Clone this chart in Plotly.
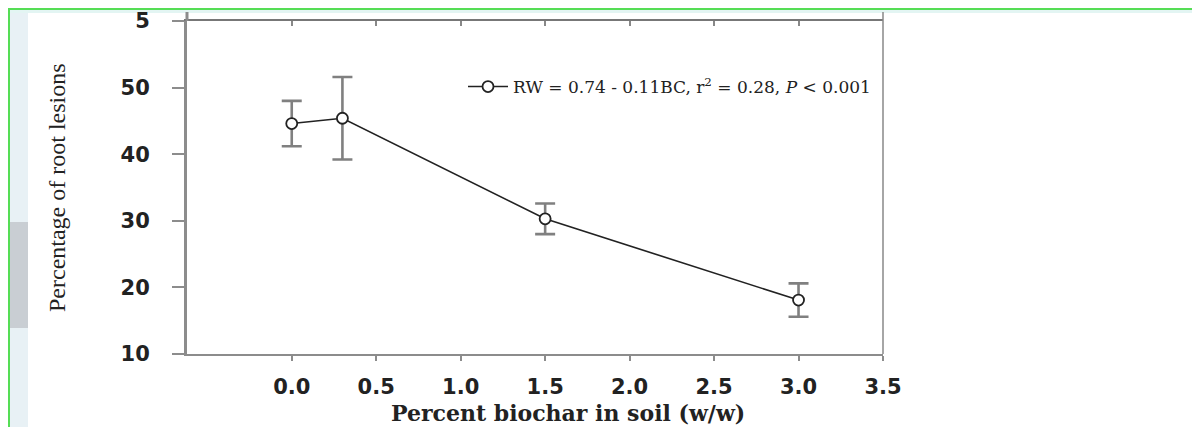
import plotly.graph_objects as go

# ---- data ----
biochar_pct = [0.0, 0.3, 1.5, 3.0]
lesion_pct = [44.6, 45.4, 30.3, 18.1]
lesion_err = [3.4, 6.2, 2.3, 2.5]
legend_label = "RW = 0.74 - 0.11BC, r<sup>2</sup> = 0.28, <i>P</i> < 0.001"
x_tickvals = [0.0, 0.5, 1.0, 1.5, 2.0, 2.5, 3.0, 3.5]
x_ticktext = ["0.0", "0.5", "1.0", "1.5", "2.0", "2.5", "3.0", "3.5"]
y_tickvals = [10, 20, 30, 40, 50, 60]
y_ticktext = ["10", "20", "30", "40", "50", "5"]
x_title = "Percent biochar in soil (w/w)"
y_title = "Percentage of root lesions"

# page body margin offset (screen = figure + OFF)
OFF = 8
W, H = 1200 - 2 * OFF, 435 - 2 * OFF
L = 187 - OFF
T = 21 - OFF
R = W - (883 - OFF)
B = H - (354 - OFF)
PW, PH = W - L - R, H - T - B


def px(x):
    return (x - OFF - L) / PW


def py(y):
    return (H - B - (y - OFF)) / PH


fig = go.Figure()

fig.add_trace(go.Scatter(
    x=biochar_pct, y=lesion_pct,
    mode="lines+markers",
    name=legend_label,
    line=dict(color="#222222", width=1.6),
    marker=dict(symbol="circle", size=11, color="white",
                line=dict(color="#222222", width=1.8)),
    error_y=dict(type="data", array=lesion_err, visible=True,
                 color="#808080", thickness=2.6, width=10),
))

# invisible trace to anchor the top mirror axis
fig.add_trace(go.Scatter(x=[biochar_pct[0]], y=[lesion_pct[0]], xaxis="x2",
                         mode="markers", marker=dict(opacity=0),
                         showlegend=False, hoverinfo="skip"))

tickfont = dict(family="DejaVu Sans", size=21, color="#222222", weight="bold")

fig.update_layout(
    width=W, height=H,
    margin=dict(l=L, r=R, t=T, b=B, autoexpand=False),
    paper_bgcolor="white", plot_bgcolor="white",
    showlegend=True,
    legend=dict(x=px(463), y=py(87), xanchor="left", yanchor="middle",
                bgcolor="rgba(0,0,0,0)",
                font=dict(family="DejaVu Serif", size=17, color="#222222"),
                itemwidth=40),
    xaxis=dict(range=[-0.62, 3.5], tickvals=x_tickvals, ticktext=x_ticktext,
               automargin=False,
               showgrid=False, zeroline=False,
               showline=True, linecolor="#8c8c8c", linewidth=2,
               ticks="outside", ticklen=5, tickwidth=2, tickcolor="#8c8c8c",
               ticklabelstandoff=8, tickfont=tickfont),
    xaxis2=dict(range=[-0.62, 3.5], overlaying="x", side="top",
                automargin=False,
                tickvals=x_tickvals, showticklabels=False,
                showgrid=False, zeroline=False,
                showline=True, linecolor="#777777", linewidth=1.5,
                ticks="inside", ticklen=5, tickwidth=2, tickcolor="#888888"),
    yaxis=dict(range=[10, 60], tickvals=y_tickvals, ticktext=y_ticktext,
               automargin=False,
               showgrid=False, zeroline=False,
               showline=True, linecolor="#8c8c8c", linewidth=3, mirror=False,
               ticks="outside", ticklen=12, tickwidth=2, tickcolor="#8c8c8c",
               ticklabelstandoff=18, tickfont=tickfont),
    font=dict(family="DejaVu Sans", color="#222222"),
)

# axis titles
fig.add_annotation(text="<b>" + x_title + "</b>", xref="paper", yref="paper",
                   x=px(568), y=py(413), xanchor="center", yanchor="middle",
                   showarrow=False,
                   font=dict(family="DejaVu Serif", size=22, color="#222222"))
fig.add_annotation(text=y_title, xref="paper", yref="paper",
                   x=px(57), y=py(188), xanchor="center", yanchor="middle",
                   textangle=-90, showarrow=False,
                   font=dict(family="Liberation Serif", size=24, color="#222222"))

# right frame line
fig.add_shape(type="line", xref="paper", yref="paper",
              x0=1, x1=1, y0=0, y1=py(12),
              line=dict(color="#888888", width=1.5))
# left axis extension above top
fig.add_shape(type="line", xref="paper", yref="paper",
              x0=0, x1=0, y0=1, y1=py(12),
              line=dict(color="#8c8c8c", width=3))

# scan decorations: green border, light strips
fig.add_shape(type="rect", xref="paper", yref="paper", layer="below",
              x0=px(9), x1=px(28), y0=py(427), y1=py(9),
              fillcolor="#e8f1f5", line=dict(width=0))
fig.add_shape(type="rect", xref="paper", yref="paper", layer="below",
              x0=px(10), x1=px(28), y0=py(328), y1=py(222),
              fillcolor="#c9ced3", line=dict(width=0))
fig.add_shape(type="rect", xref="paper", yref="paper", layer="below",
              x0=px(9), x1=px(1192), y0=py(13), y1=py(9),
              fillcolor="#e3f5f3", line=dict(width=0))
fig.add_shape(type="line", xref="paper", yref="paper",
              x0=px(9), x1=px(9), y0=py(427), y1=py(8),
              line=dict(color="#55dd55", width=2))
fig.add_shape(type="line", xref="paper", yref="paper",
              x0=px(9), x1=px(1192), y0=py(9), y1=py(9),
              line=dict(color="#55dd55", width=2))

fig.write_html("out.html")
